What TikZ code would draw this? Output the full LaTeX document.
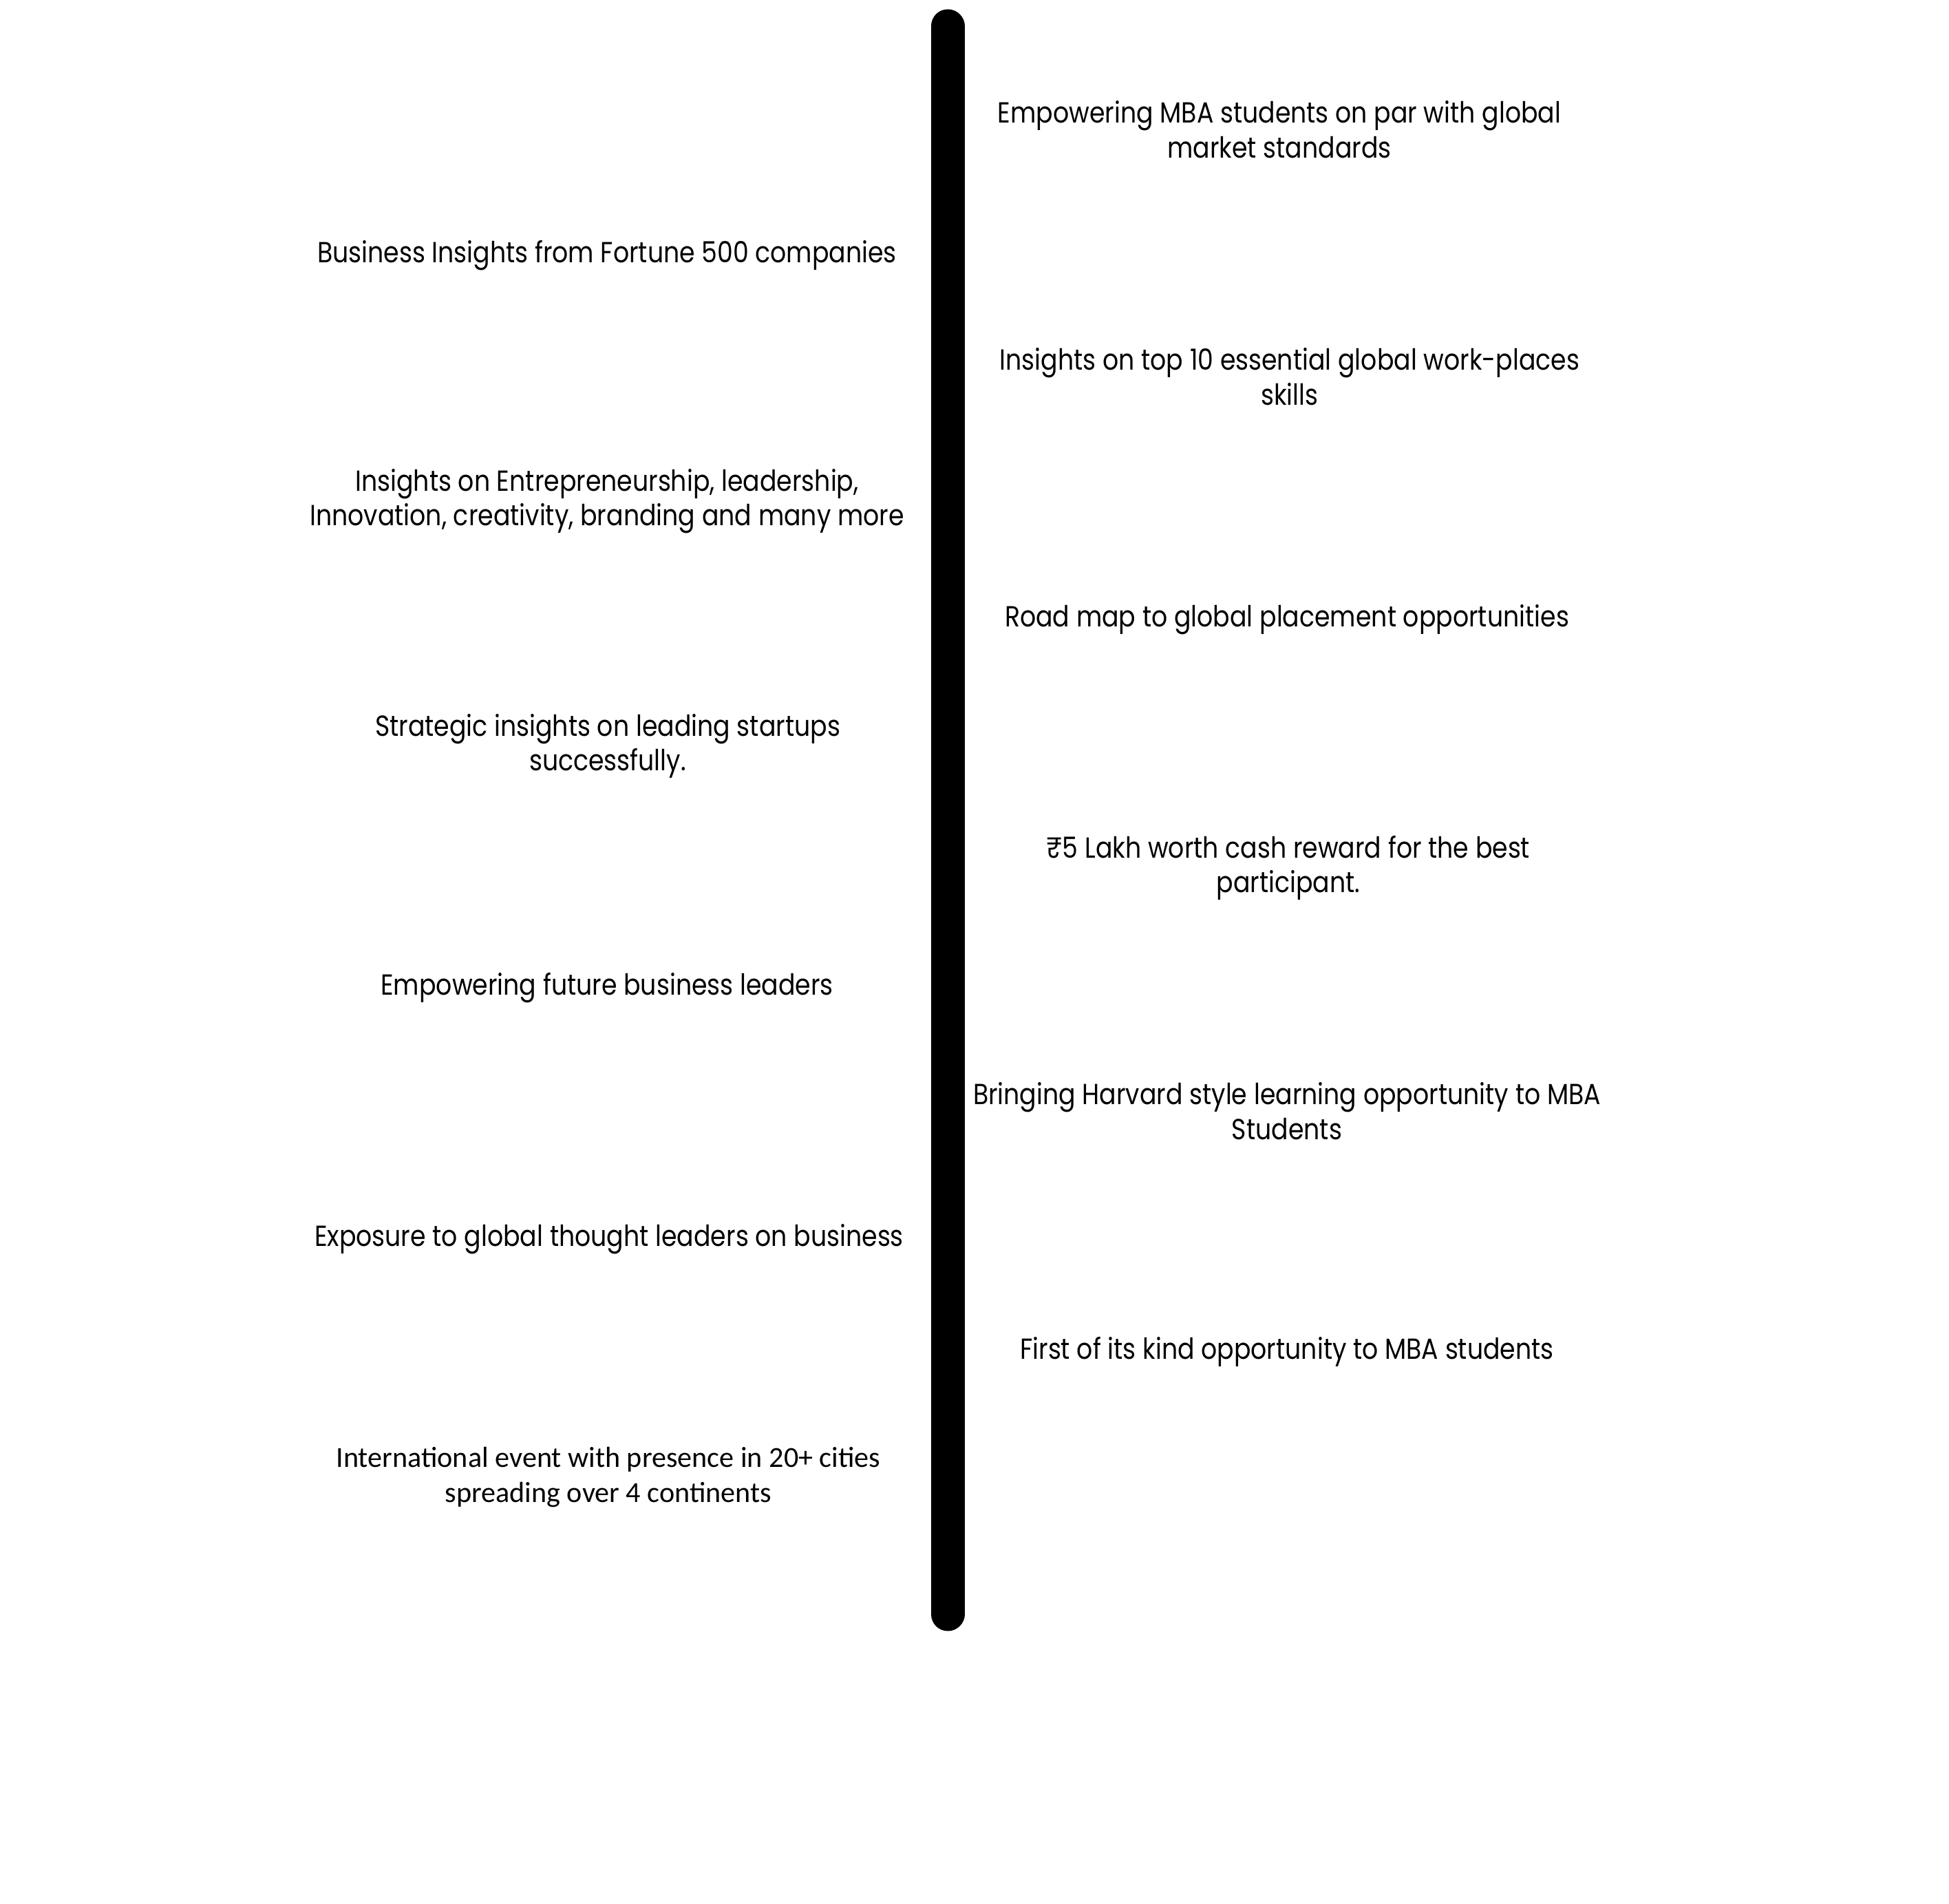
\documentclass[tikz,border=0pt]{standalone}
\usepackage{fontspec}
\setmainfont{Poppins}[FakeStretch=0.86]
\newfontfamily\calfont{Carlito}

\begin{document}
\begin{tikzpicture}[point/.style={align=center, inner sep=0pt, font=\fontsize{12}{14.4}\selectfont}]
            \useasboundingbox (0,0) rectangle (28.32,27.66);

            \coordinate (bartop) at (13.77,27.28);
            \coordinate (barbot) at (13.77,4.21);
            \draw[line width=0.49cm, line cap=round] (bartop) -- (barbot);

            % right side
            \node[point] (r1) at (18.59,25.78){Empowering MBA students on par with global\\market standards};
            \node[point] (r2) at (18.74,22.19){Insights on top 10 essential global work-places\\skills};
            \node[point] (r3) at (18.70,18.66){Road map to global placement opportunities};
            \node[point] (r4) at (18.72,15.05){₹5 Lakh worth cash reward for the best\\participant.};
            \node[point] (r5) at (18.70,11.52){Bringing Harvard style learning opportunity to MBA\\Students};
            \node[point] (r6) at (18.70,8.02){First of its kind opportunity to MBA students};

            % left side
            \node[point] (l1) at (8.82,23.95){Business Insights from Fortune 500 companies};
            \node[point] (l2) at (8.82,20.38){Insights on Entrepreneurship, leadership,\\Innovation, creativity, branding and many more};
            \node[point] (l3) at (8.83,16.82){Strategic insights on leading startups\\successfully.};
            \node[point] (l4) at (8.82,13.31){Empowering future business leaders};
            \node[point] (l5) at (8.85,9.66){Exposure to global thought leaders on business};
            \node[point, font=\calfont\fontsize{12}{14.4}\selectfont] (l6) at (8.84,6.20){International event with presence in 20+ cities\\spreading over 4 continents};

      \end{tikzpicture}
\end{document}
